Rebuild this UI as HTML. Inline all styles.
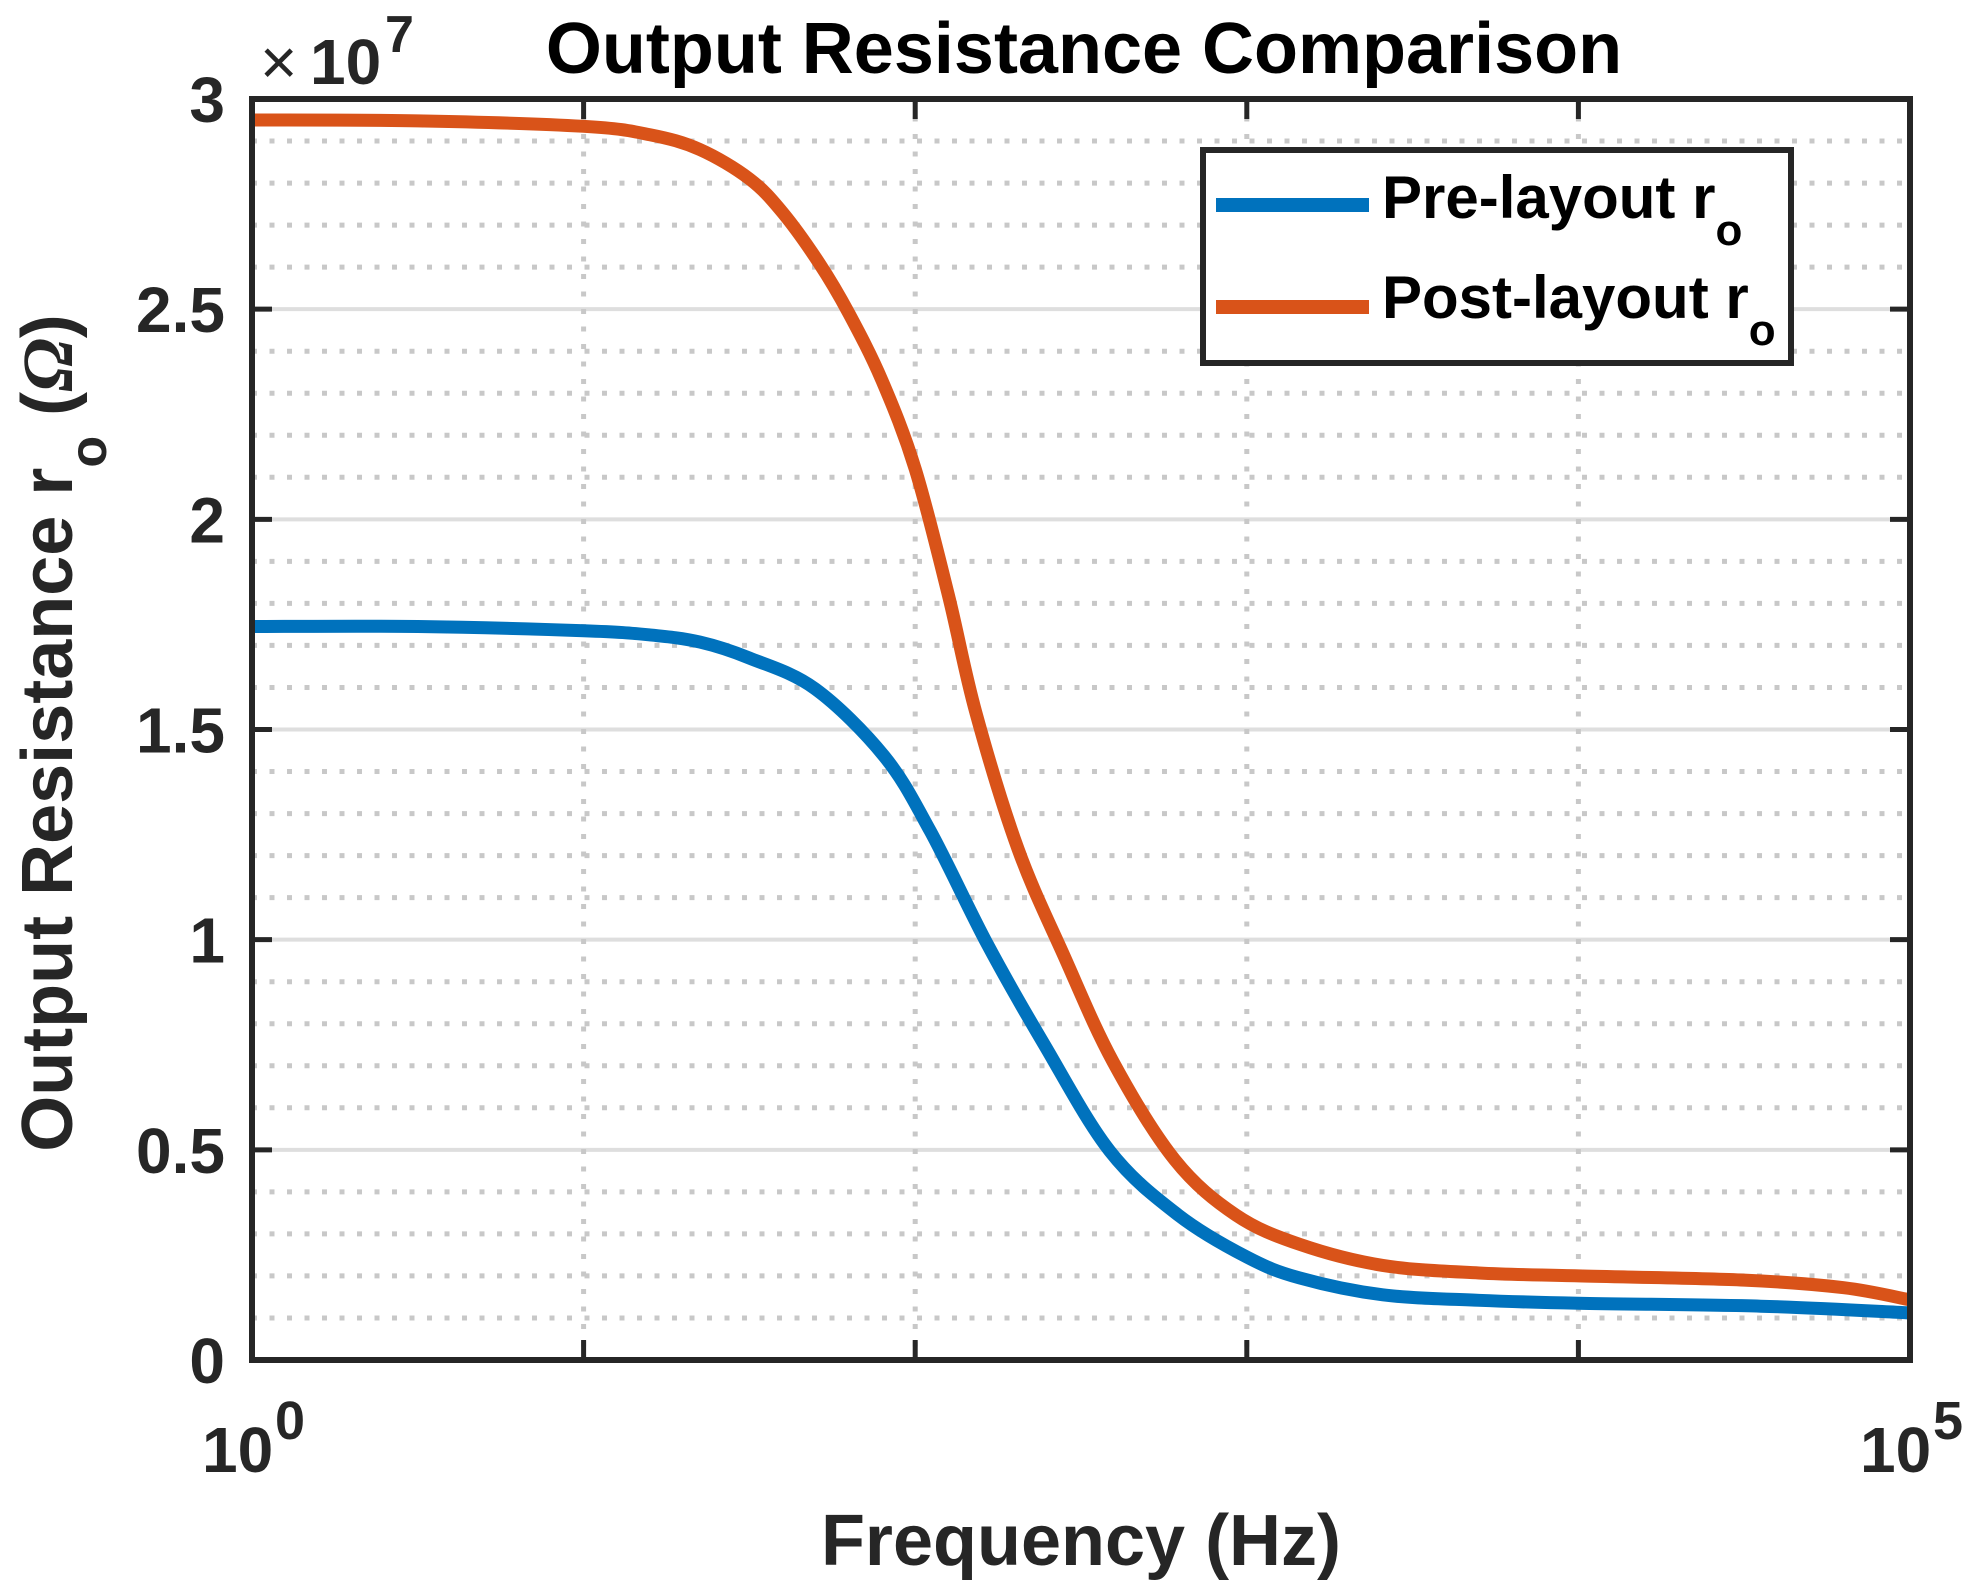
<!DOCTYPE html>
<html><head><meta charset="utf-8"><style>
html,body{margin:0;padding:0;background:#fff;}
svg{display:block;font-family:"Liberation Sans",Arial,sans-serif;font-weight:bold;}
</style></head><body>
<svg id="chart" width="1973" height="1596" viewBox="0 0 1973 1596" xmlns="http://www.w3.org/2000/svg">
<rect x="0" y="0" width="1973" height="1596" fill="#fff"/>
<g id="grid"></g>
<g id="series"></g>
<g id="axes"></g>
<text x="1084" y="73" text-anchor="middle" font-size="72" fill="#000">Output Resistance Comparison</text>
<g fill="#262626">
<text x="260" y="84" font-size="64" font-weight="normal">×</text>
<text x="310" y="84" font-size="64">10</text>
<text x="385" y="52" font-size="52">7</text>
</g>
<text x="1081" y="1565" text-anchor="middle" font-size="72" fill="#262626">Frequency (Hz)</text>
<text transform="translate(72,733) rotate(-90)" text-anchor="middle" font-size="72" fill="#262626">Output Resistance r<tspan font-size="52" dy="34">o</tspan><tspan dy="-34"> (<tspan font-style="italic" font-family="Liberation Serif, serif">Ω</tspan>)</tspan></text>
<g>
<rect x="1203" y="150" width="588" height="213" fill="#fff" stroke="#262626" stroke-width="6"/>
<line x1="1216" y1="205" x2="1369" y2="205" stroke="#0072BD" stroke-width="14"/>
<text x="1382" y="218" font-size="60" fill="#000">Pre-layout r<tspan font-size="44" dy="27">o</tspan></text>
<line x1="1216" y1="307" x2="1369" y2="307" stroke="#D95319" stroke-width="14"/>
<text x="1382" y="318" font-size="60" fill="#000">Post-layout r<tspan font-size="44" dy="27">o</tspan></text>
</g>
</svg>
<script>
// data (x in log10 decades of Hz, y in units of 1e7 ohm)
const preX  = [0, 0.5, 1, 1.2, 1.351, 1.5, 1.698, 1.906, 2.045, 2.217, 2.388, 2.587, 2.793, 3.0, 3.16, 3.41, 3.7, 4, 4.55, 5];
const preY  = [1.745, 1.745, 1.735, 1.725, 1.708, 1.67, 1.597, 1.437, 1.259, 0.99, 0.752, 0.497, 0.345, 0.245, 0.195, 0.155, 0.142, 0.135, 0.128, 0.112];
const postX = [0, 0.5, 1, 1.2, 1.35, 1.5, 1.6, 1.71, 1.8, 1.9, 2.0, 2.1, 2.183, 2.31, 2.449, 2.597, 2.783, 2.967, 3.16, 3.41, 3.7, 4, 4.5, 4.8, 5];
const postY = [2.95, 2.948, 2.935, 2.915, 2.88, 2.81, 2.73, 2.61, 2.49, 2.33, 2.12, 1.82, 1.54, 1.216, 0.961, 0.709, 0.476, 0.345, 0.275, 0.225, 0.207, 0.20, 0.19, 0.172, 0.143];
const yTicks = [0, 0.5, 1, 1.5, 2, 2.5, 3];
const yTickLabels = ["0", "0.5", "1", "1.5", "2", "2.5", "3"];
const xDecades = [0, 1, 2, 3, 4, 5];

const L = 252, R = 1910, T = 99, B = 1360;
const xMin = 0, xMax = 5, yMin = 0, yMax = 3;
function sx(d){ return L + (d - xMin) / (xMax - xMin) * (R - L); }
function sy(v){ return B - (v - yMin) / (yMax - yMin) * (B - T); }
const NS = "http://www.w3.org/2000/svg";
function mk(tag, attrs, parent){
  const e = document.createElementNS(NS, tag);
  for (const k in attrs) e.setAttribute(k, attrs[k]);
  parent.appendChild(e);
  return e;
}
const grid = document.getElementById('grid');
const axes = document.getElementById('axes');
const series = document.getElementById('series');

for (let i = 1; i < 30; i++) {
  if (i % 5 === 0) continue;
  const v = i / 10;
  const l = mk('line', {x1: L, x2: R, y1: sy(v), y2: sy(v), stroke: '#c8c8c8', 'stroke-width': 5, 'stroke-dasharray': '5 12.5'}, grid);
  
  
}
yTicks.forEach(v => {
  if (v === 0 || v === 3) return;
  const l = mk('line', {x1: L, x2: R, y1: sy(v), y2: sy(v), stroke: '#dedede', 'stroke-width': 4}, grid);
  
  
});
xDecades.forEach(d => {
  if (d === 0 || d === 5) return;
  const l = mk('line', {x1: sx(d), x2: sx(d), y1: T, y2: B, stroke: '#c8c8c8', 'stroke-width': 5, 'stroke-dasharray': '5 12.5'}, grid);
  
  
});

function pathFrom(xs, ys){
  const p = xs.map((x, i) => [sx(x), sy(ys[i])]);
  let d = 'M' + p[0][0] + ',' + p[0][1];
  for (let i = 0; i < p.length - 1; i++) {
    const p0 = p[i - 1] || p[i], p1 = p[i], p2 = p[i + 1], p3 = p[i + 2] || p2;
    const c1 = [p1[0] + (p2[0] - p0[0]) / 6, p1[1] + (p2[1] - p0[1]) / 6];
    const c2 = [p2[0] - (p3[0] - p1[0]) / 6, p2[1] - (p3[1] - p1[1]) / 6];
    d += 'C' + c1 + ' ' + c2 + ' ' + p2;
  }
  return d;
}
const pre = mk('path', {d: pathFrom(preX, preY), fill: 'none', stroke: '#0072BD', 'stroke-width': 13, 'stroke-linejoin': 'round'}, series);


const post = mk('path', {d: pathFrom(postX, postY), fill: 'none', stroke: '#D95319', 'stroke-width': 13, 'stroke-linejoin': 'round'}, series);



const box = mk('rect', {x: L, y: T, width: R - L, height: B - T, fill: 'none', stroke: '#262626', 'stroke-width': 6}, axes);


yTicks.forEach((v, i) => {
  const t1 = mk('line', {x1: L, x2: L + 20, y1: sy(v), y2: sy(v), stroke: '#262626', 'stroke-width': 5}, axes);
  
  
  const t2 = mk('line', {x1: R - 20, x2: R, y1: sy(v), y2: sy(v), stroke: '#262626', 'stroke-width': 5}, axes);
  
  
  const tx = mk('text', {x: 225, y: sy(v) + 23, 'text-anchor': 'end', 'font-size': 64, fill: '#262626'}, axes);
  tx.textContent = yTickLabels[i];
  
  
});
xDecades.forEach(d => {
  const t1 = mk('line', {x1: sx(d), x2: sx(d), y1: B, y2: B - 20, stroke: '#262626', 'stroke-width': 5}, axes);
  
  
  const t2 = mk('line', {x1: sx(d), x2: sx(d), y1: T, y2: T + 20, stroke: '#262626', 'stroke-width': 5}, axes);
  
  
});
[[0, '0'], [5, '5']].forEach(([d, e]) => {
  const tx = mk('text', {x: sx(d) - 50, y: 1472, 'font-size': 64, fill: '#262626'}, axes);
  tx.textContent = '10';
  
  
  const sp = mk('text', {x: sx(d) + 23, y: 1439, 'font-size': 54, fill: '#262626'}, axes);
  sp.textContent = e;
  
  
});
</script>
</body></html>
